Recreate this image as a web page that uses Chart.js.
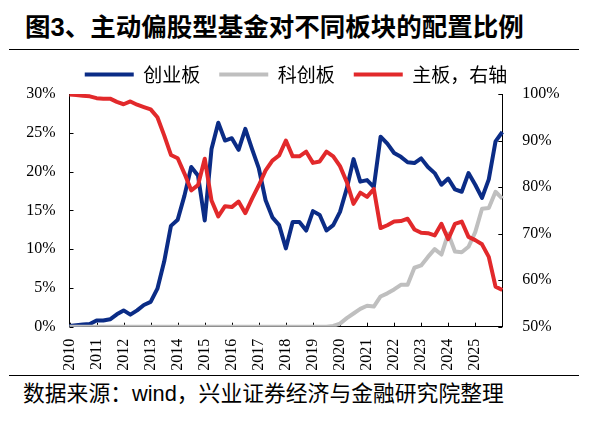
<!DOCTYPE html>
<html>
<head>
<meta charset="utf-8">
<script src="https://cdn.jsdelivr.net/npm/chart.js@4/dist/chart.umd.min.js"></script>
<style>
body { margin: 0; width: 592px; height: 422px; background: #fff; position: relative; overflow: hidden;
       font-family: "Liberation Sans", "Noto Sans CJK SC", sans-serif; color: #000; }
#title { position: absolute; left: 25px; top: 12px; font-size: 25.5px; font-weight: bold; line-height: 30px; white-space: nowrap; }
.rule { position: absolute; left: 9px; width: 570px; height: 0; border-top: 1.5px solid #000; }
#source { position: absolute; left: 23px; top: 381px; font-size: 21.8px; line-height: 26px; white-space: nowrap; }
#wrap { position: absolute; left: 0; top: 46px; width: 592px; height: 329px; }
</style>
</head>
<body>
<div id="title">图3、主动偏股型基金对不同板块的配置比例</div>
<div class="rule" style="top:49px"></div>
<div id="wrap"><canvas id="chart" width="592" height="329"></canvas></div>
<div class="rule" style="top:375px"></div>
<div id="source">数据来源：wind，兴业证券经济与金融研究院整理</div>
<script>
// quarterly, 2009-12 .. 2025-12
const tickYears = ['2010', '2011', '2012', '2013', '2014', '2015', '2016', '2017',
                   '2018', '2019', '2020', '2021', '2022', '2023', '2024', '2025'];
const quarterEnds = ['03', '06', '09', '12'];
const categories = ['2009-12'];
for (let y = 2010; y <= 2025; y++) quarterEnds.forEach(m => categories.push(y + '-' + m));

// 创业板, % (left axis)
const chinext = [0.1, 0.2, 0.3, 0.35, 0.8, 0.8, 0.95, 1.6, 2.1, 1.55, 2.1, 2.8, 3.2, 4.9, 8.4, 13.0,
                 13.8, 16.9, 20.6, 19.5, 13.7, 22.9, 26.3, 24.0, 24.3, 22.8, 25.5, 22.9, 20.4, 16.3, 14.1, 13.1,
                 10.1, 13.5, 13.5, 12.4, 14.9, 14.4, 12.4, 13.1, 14.8, 17.8, 21.6, 18.7, 18.9, 18.0, 24.5, 23.6,
                 22.4, 21.9, 21.2, 21.1, 21.7, 20.6, 19.8, 18.3, 19.1, 17.7, 17.4, 19.8, 18.3, 16.6, 19.0, 23.9,
                 25.1];
// 科创板, % (left axis)
const star = [0, 0, 0, 0, 0, 0, 0, 0, 0, 0, 0, 0, 0, 0, 0, 0,
              0, 0, 0, 0, 0, 0, 0, 0, 0, 0, 0, 0, 0, 0, 0, 0,
              0, 0, 0, 0, 0, 0, 0, 0.1, 0.4, 1.1, 1.7, 2.3, 2.7, 2.6, 3.9, 4.3,
              4.8, 5.4, 5.4, 7.6, 7.9, 9.0, 10.0, 9.3, 12.0, 9.7, 9.6, 10.3, 12.2, 15.2, 15.3, 17.4,
              16.5];
// 主板, % (right axis)
const mainBoard = [99.9, 99.8, 99.6, 99.5, 99.1, 99.0, 99.0, 98.3, 97.8, 98.4, 97.7, 97.2, 96.7, 95.0, 91.1, 86.9,
                   86.2, 82.9, 79.3, 80.4, 86.1, 77.1, 73.7, 75.9, 75.7, 76.9, 74.4, 77.5, 80.4, 83.6, 85.7, 86.8,
                   90.0, 86.6, 86.6, 87.6, 85.2, 85.5, 87.6, 86.6, 84.5, 81.1, 76.4, 78.8, 77.9, 79.6, 71.2, 71.8,
                   72.6, 72.7, 73.2, 70.9, 70.2, 70.1, 69.6, 72.1, 68.8, 72.1, 72.6, 69.3, 68.6, 67.7, 65.0, 58.6,
                   57.9];

const serif = { family: '"Liberation Serif", "Times New Roman", serif', size: 16 };

// small tick marks pointing into the plot
const innerTicks = {
  id: 'innerTicks',
  beforeDatasetsDraw(chart) {
    const { ctx, chartArea, scales } = chart;
    ctx.save();
    ctx.strokeStyle = '#000';
    ctx.lineWidth = 1;
    ctx.beginPath();
    scales.y.ticks.forEach((t, i) => {
      const p = Math.round(scales.y.getPixelForTick(i)) + 0.5;
      ctx.moveTo(chartArea.left, p); ctx.lineTo(chartArea.left + 4, p);
    });
    scales.y1.ticks.forEach((t, i) => {
      const p = Math.round(scales.y1.getPixelForTick(i)) + 0.5;
      ctx.moveTo(chartArea.right, p); ctx.lineTo(chartArea.right - 4, p);
    });
    for (let i = 0; i < categories.length; i += 4) {
      const p = Math.round(scales.x.getPixelForValue(i)) + 0.5;
      ctx.moveTo(p, chartArea.bottom); ctx.lineTo(p, chartArea.bottom - 4);
    }
    ctx.stroke();
    ctx.restore();
  }
};

new Chart(document.getElementById('chart'), {
  type: 'line',
  data: {
    labels: categories,
    datasets: [
      { label: '创业板', data: chinext, yAxisID: 'y', borderColor: '#0B2C86', backgroundColor: '#0B2C86', borderWidth: 4, order: 3 },
      { label: '科创板', data: star, yAxisID: 'y', borderColor: '#BFBFBF', backgroundColor: '#BFBFBF', borderWidth: 4, order: 2 },
      { label: '主板，右轴', data: mainBoard, yAxisID: 'y1', borderColor: '#E2292B', backgroundColor: '#E2292B', borderWidth: 4, order: 1 }
    ]
  },
  options: {
    responsive: false,
    animation: false,
    layout: { padding: 0 },
    elements: {
      line: { borderWidth: 4, tension: 0, borderJoinStyle: 'round' },
      point: { radius: 0, borderWidth: 4 }
    },
    plugins: {
      tooltip: { enabled: false },
      legend: {
        position: 'top',
        labels: {
          usePointStyle: true,
          pointStyle: 'line',
          pointStyleWidth: 49,
          padding: 19,
          color: '#000',
          font: { family: '"Noto Sans CJK SC", sans-serif', size: 19 },
          sort: (a, b) => a.datasetIndex - b.datasetIndex
        }
      }
    },
    scales: {
      x: {
        type: 'category',
        offset: false,
        grid: { display: false, drawTicks: false },
        border: { display: true, color: '#000', width: 1 },
        ticks: {
          autoSkip: false, minRotation: 90, maxRotation: 90, padding: 12,
          color: '#000', font: serif,
          callback: (v, i) => (i % 4 === 0 && i / 4 < tickYears.length) ? tickYears[i / 4] : ''
        },
        afterFit: s => { s.height = 48.3; }
      },
      y: {
        position: 'left', min: 0, max: 30,
        grid: { display: false, drawTicks: false },
        border: { display: true, color: '#000', width: 1 },
        ticks: { stepSize: 5, padding: 14, color: '#000', font: serif, callback: v => v + '%' },
        afterFit: s => { s.width = 69.5; }
      },
      y1: {
        position: 'right', min: 50, max: 100,
        grid: { display: false, drawTicks: false },
        border: { display: true, color: '#000', width: 1 },
        ticks: { stepSize: 10, padding: 20, color: '#000', font: serif, callback: v => v + '%' },
        afterFit: s => { s.width = 89.7; }
      }
    }
  },
  plugins: [innerTicks]
});
</script>
</body>
</html>
